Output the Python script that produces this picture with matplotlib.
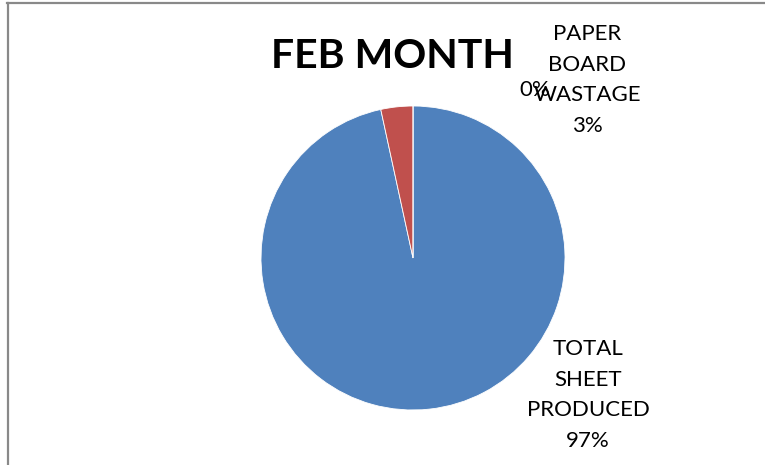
import matplotlib.pyplot as plt
from matplotlib.lines import Line2D

plt.rcParams['font.family'] = ['Lato', 'DejaVu Sans']

categories = ['TOTAL SHEET PRODUCED', 'PAPER BOARD WASTAGE', '']
values = [96.6, 3.4, 0.0]
pct_labels = ['97%', '3%', '0%']
colors = ['#4F81BD', '#C0504D', '#9BBB59']

W, H = 765, 465
fig = plt.figure(figsize=(W / 100, H / 100), dpi=100)
ax = fig.add_axes([0, 0, 1, 1])

# chart border (left and top only visible)
fig.add_artist(Line2D([7.5 / W, 7.5 / W], [0, 1 - 3.5 / H], color='#898989', lw=1.6))
fig.add_artist(Line2D([7 / W, 1], [1 - 3.5 / H, 1 - 3.5 / H], color='#898989', lw=1.6))

ax.pie(values, colors=colors, startangle=90, counterclock=False,
       center=(413, H - 258), radius=152, frame=True,
       wedgeprops=dict(edgecolor='white', linewidth=0.6))
ax.set_xlim(0, W)
ax.set_ylim(0, H)
ax.set_aspect('equal')
ax.axis('off')

ax.text(392, H - 56, 'FEB MONTH', fontsize=29.5, fontweight='bold',
        ha='center', va='center', color='black')

label_pos = [(588, H - 395), (587, H - 80), (535, H - 90)]
for name, pct, (x, y) in zip(categories, pct_labels, label_pos):
    txt = '\n'.join(name.split(' ') + [pct]) if name else pct
    ax.text(x, y, txt, fontsize=16, ha='center', va='center',
            linespacing=1.68, color='black')

fig.savefig('out.png', dpi=100)
